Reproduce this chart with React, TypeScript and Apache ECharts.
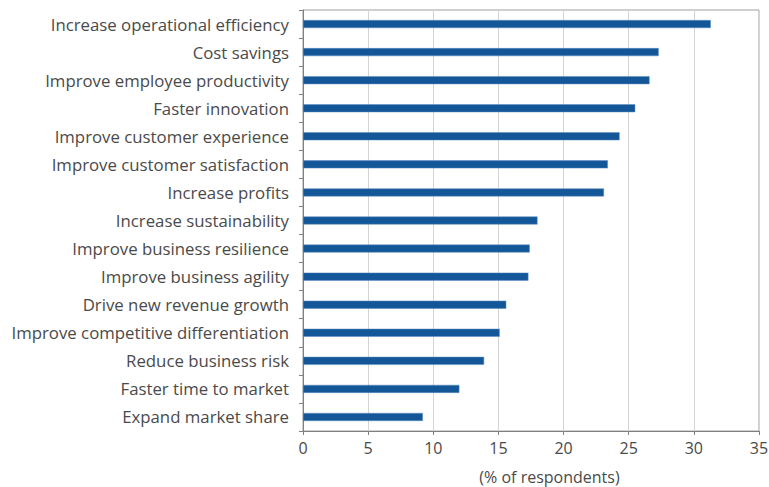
import React, { useEffect, useRef } from "react";
import * as echarts from "echarts";

const categories = [
  "Increase operational efficiency",
  "Cost savings",
  "Improve employee productivity",
  "Faster innovation",
  "Improve customer experience",
  "Improve customer satisfaction",
  "Increase profits",
  "Increase sustainability",
  "Improve business resilience",
  "Improve business agility",
  "Drive new revenue growth",
  "Improve competitive differentiation",
  "Reduce business risk",
  "Faster time to market",
  "Expand market share",
];

const values = [31.3, 27.3, 26.6, 25.5, 24.3, 23.4, 23.1, 18.0, 17.4, 17.3, 15.6, 15.1, 13.9, 12.0, 9.2];

const axisName = "(% of respondents)";

export default function App() {
  const ref = useRef<HTMLDivElement>(null);
  useEffect(() => {
    if (!ref.current) return;
    const chart = echarts.init(ref.current, undefined, { renderer: "svg" });
    const font = "'Open Sans', sans-serif";
    const textColor = "#4a4a4a";
    chart.setOption({
      animation: false,
      textStyle: { fontFamily: font },
      grid: {
        left: 303,
        right: 10,
        top: 10,
        bottom: 56,
        outerBoundsMode: "none",
        containLabel: false,
        show: true,
        borderColor: "#a0a0a0",
        borderWidth: 1,
      },
      xAxis: {
        type: "value",
        min: 0,
        max: 35,
        interval: 5,
        name: axisName,
        nameLocation: "middle",
        nameGap: 38,
        nameTextStyle: {
          fontSize: 16,
          lineHeight: 16,
          color: textColor,
          fontFamily: font,
          padding: [0, 0, 0, 37],
        },
        axisLine: { show: true, lineStyle: { color: "#808080" } },
        axisTick: { show: true, length: 4, lineStyle: { color: "#808080" } },
        axisLabel: { fontSize: 16, color: textColor, margin: 9, fontFamily: font },
        splitLine: { show: true, lineStyle: { color: "#d4d4d4" } },
      },
      yAxis: {
        type: "category",
        data: categories,
        inverse: true,
        axisLine: { show: true, lineStyle: { color: "#808080" } },
        axisTick: { show: true, length: 4, lineStyle: { color: "#808080" } },
        axisLabel: { fontSize: 16.8, color: textColor, margin: 14, fontFamily: font },
        splitLine: { show: false },
      },
      series: [
        {
          type: "bar",
          data: values,
          barWidth: 8,
          itemStyle: { color: "#145799", borderColor: "#5d8cc0", borderWidth: 0.5 },
        },
      ],
    });
    return () => chart.dispose();
  }, []);
  return (
    <div
      ref={ref}
      style={{ position: "absolute", left: 0, top: 0, width: 769, height: 487 }}
    />
  );
}
